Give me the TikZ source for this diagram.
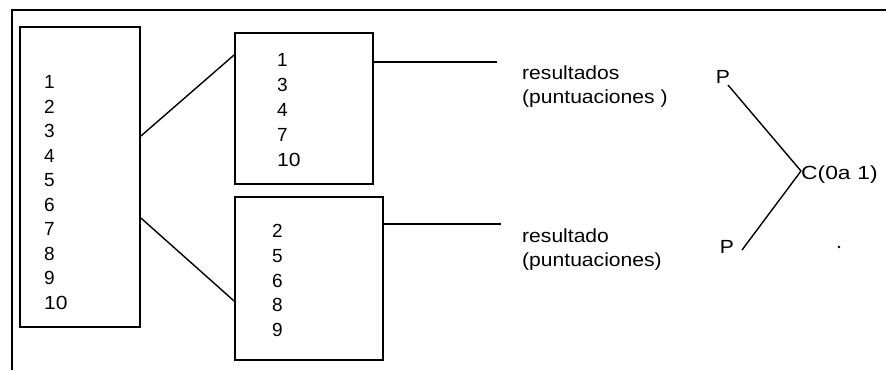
\documentclass[tikz,border=0pt]{standalone}
\usepackage{graphicx}
\usepackage{fontspec}
\setmainfont{Liberation Sans}
\newcommand\wx[1]{\scalebox{1.11}[1]{#1}}
\begin{document}
\begin{tikzpicture}[x=1pt,y=-1pt,
  box/.style={draw,line width=1.8pt,rectangle,inner sep=0pt},
  lbl/.style={inner sep=0pt,font=\fontsize{19}{24}\selectfont},
  nums/.style={inner sep=0pt,align=left,anchor=west},
  conn/.style={line width=1.4pt}]
\useasboundingbox (0,0) rectangle (886,370);
\draw[line width=2.2pt] (12,370) -- (12,10) -- (886,10);
% boxes
\node[box,minimum width=120pt,minimum height=300pt] (L) at (80,177) {};
\node[box,minimum width=138pt,minimum height=151pt] (T) at (304,108.5) {};
\node[box,minimum width=148pt,minimum height=163pt] (B) at (309,278.5) {};
% numbers
\node[nums,font=\fontsize{19}{24.5}\selectfont] (Ln) at (44,192.5) {1\\2\\3\\4\\5\\6\\7\\8\\9\\\wx{10}};
\node[nums,font=\fontsize{19}{25}\selectfont] (Tn) at (277,110) {1\\3\\4\\7\\\wx{10}};
\node[nums,font=\fontsize{19}{24.75}\selectfont] (Bn) at (272,280.5) {2\\5\\6\\8\\9};
% connectors
\draw[conn] (L.east |- 0,136) -- (T.west |- 0,55);
\draw[conn] (L.east |- 0,218) -- (B.west |- 0,301);
\coordinate (r1) at (497,62);
\coordinate (r2) at (501,224);
\draw[conn] (T.east |- r1) -- (r1);
\draw[conn] (B.east |- r2) -- (r2);
% labels
\node[lbl,align=left,anchor=west] (res1) at (522,86.5) {\wx{resultados}\\\wx{(puntuaciones )}};
\node[lbl,align=left,anchor=west] (res2) at (522,249.5) {\wx{resultado}\\\wx{(puntuaciones)}};
\node[lbl] (P1) at (723,77) {\wx{P}};
\node[lbl] (P2) at (727,247) {\wx{P}};
\node[lbl,anchor=west] (C) at (801,175) {\scalebox{1.2}[1]{C(0a\hspace{0.3em}1)}};
\coordinate (c) at (801,171);
\draw[conn] (728,85) -- (c);
\draw[conn] (c) -- (742,250);
\fill (839,247) circle (1.3pt);
\end{tikzpicture}
\end{document}
